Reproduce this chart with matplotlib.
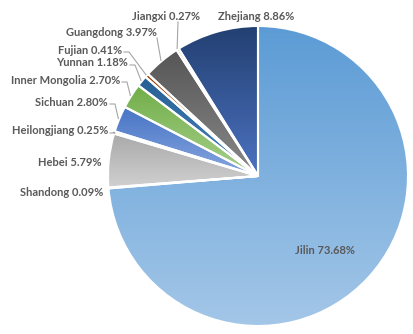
import numpy as np
import matplotlib.pyplot as plt
from matplotlib.colors import LinearSegmentedColormap

provinces = ['Jilin', 'Shandong', 'Hebei', 'Heilongjiang', 'Sichuan', 'Inner Mongolia',
             'Yunnan', 'Fujian', 'Guangdong', 'Jiangxi', 'Zhejiang']
shares = [73.68, 0.09, 5.79, 0.25, 2.80, 2.70, 1.18, 0.41, 3.97, 0.27, 8.86]

# gradient colours, top -> bottom of each slice
top_colors = ['#5b9bd5', '#ed7d31', '#a8a8a8', '#ffc000', '#4472c4', '#70ad47',
              '#255e91', '#9e480e', '#555555', '#997300', '#223f70']
bottom_colors = ['#a4c7e8', '#f4b183', '#d2d2d2', '#ffd966', '#8aa8e0', '#a9d18e',
                 '#4a86c0', '#d0804a', '#8a8a8a', '#c9a84a', '#4d73c2']

# label text positions in pixels (x, y, ha) and whether a leader is drawn
label_pos = [(325, 250, 'center'), (103, 192, 'right'), (102, 163, 'right'),
             (108, 131, 'right'), (108, 102, 'right'), (120, 80, 'right'),
             (128, 63, 'right'), (122, 50, 'right'), (157, 33, 'right'),
             (200, 16, 'right'), (256, 17, 'center')]
leader = [False, False, False, True, True, True, True, True, True, True, False]

W, H = 413, 334
cx, cy, R = 258, 176, 150

fig = plt.figure(figsize=(W / 100, H / 100), dpi=100)
ax = fig.add_axes([0, 0, 1, 1])
wedges, _ = ax.pie(shares, colors=top_colors, startangle=90, counterclock=False,
                   center=(cx, H - cy), radius=R,
                   wedgeprops=dict(edgecolor='white', linewidth=1.5))
grad = np.linspace(0, 1, 256).reshape(-1, 1)
for w, c0, c1 in zip(wedges, top_colors, bottom_colors):
    ext = w.get_path().get_extents()
    cmap = LinearSegmentedColormap.from_list('g', [c0, c1])
    im = ax.imshow(grad, cmap=cmap, aspect='auto', origin='upper',
                   extent=(ext.x0 - 2, ext.x1 + 2, ext.y0 - 2, ext.y1 + 2), zorder=1)
    im.set_clip_path(w)
    w.set_facecolor('none')
    w.set_zorder(2)
ax.set_xlim(0, W)
ax.set_ylim(0, H)
ax.set_aspect('equal')
ax.axis('off')

tot = sum(shares)
start = 0.0
for name, v, (lx, ly, ha), ld in zip(provinces, shares, label_pos, leader):
    mid = start + v / tot * 360 / 2
    start += v / tot * 360
    ax.text(lx, H - ly, f'{name} {v:.2f}%', ha=ha, va='center', fontsize=8,
            fontweight='bold', color='#595959', family='Lato', zorder=4)
    if ld:
        ang = np.deg2rad(90 - mid)
        rx, ry = cx + (R + 1) * np.cos(ang), cy - (R + 1) * np.sin(ang)
        if ly < 40:
            sx, sy = (lx - 22, ly + 6) if name == 'Jiangxi' else (lx, ly + 5)
            xs, ys = [sx, rx], [sy, ry]
        else:
            sx, sy = lx + 2, ly + 2
            xs, ys = [sx, sx + 5, rx], [sy, sy, ry]
        ax.plot(xs, [H - y for y in ys], color='#a6a6a6', lw=0.8, zorder=3)

fig.savefig('out.png', dpi=100)
